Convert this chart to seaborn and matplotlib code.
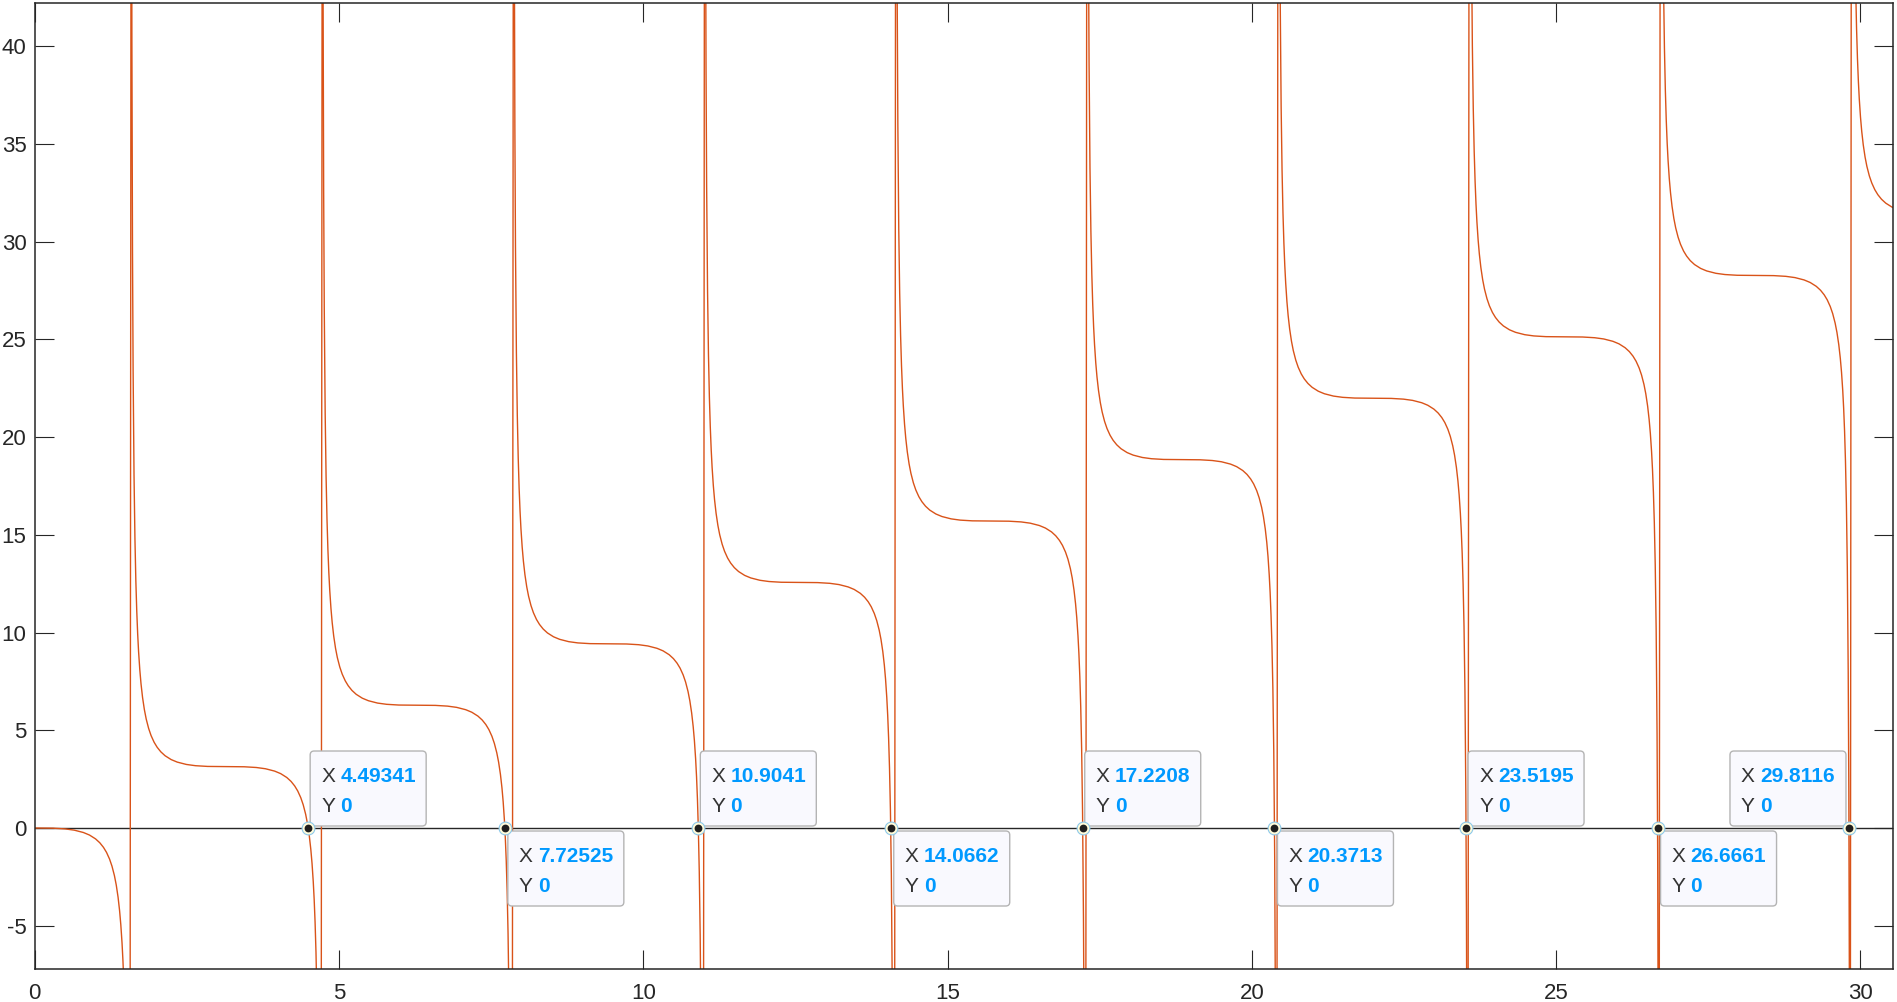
import matplotlib
matplotlib.use("Agg")
import matplotlib.pyplot as plt
import seaborn as sns
import pandas as pd
from matplotlib.patches import FancyBboxPatch
from matplotlib.transforms import IdentityTransform

# ---------------- curve points (one list pair per branch) ----------------
x_b0 = [0.0, 0.3, 0.5, 0.65, 0.8, 0.9, 1.0, 1.07, 1.13, 1.18, 1.23, 1.27, 1.31, 1.34, 1.37, 1.395, 1.415,
        1.435, 1.45, 1.465, 1.48, 1.495, 1.51, 1.525, 1.535, 1.545, 1.555]
y_b0 = [0.0, -0.009, -0.046, -0.110, -0.230, -0.360, -0.557, -0.757, -0.990, -1.247, -1.590, -1.954, -2.437,
        -2.916, -3.543, -4.235, -4.952, -5.884, -6.788, -7.952, -9.503, -11.673, -14.918, -20.296, -26.389,
        -37.212, -61.747]

x_b1 = [1.587, 1.597, 1.607, 1.617, 1.632, 1.647, 1.662, 1.677, 1.692, 1.707, 1.727, 1.747, 1.772, 1.802,
        1.832, 1.872, 1.912, 1.962, 2.012, 2.072, 2.142, 2.242, 2.342, 2.492, 2.642, 2.842, 3.142,
        3.442, 3.642, 3.792, 3.942, 4.042, 4.142, 4.212, 4.272, 4.322, 4.372, 4.412, 4.452, 4.482, 4.512,
        4.537, 4.557, 4.577, 4.592, 4.607, 4.622, 4.637, 4.652, 4.667, 4.677, 4.687, 4.697]
y_b1 = [64.889, 40.354, 29.531, 23.438, 18.060, 14.815, 12.645, 11.094, 9.930, 9.026, 8.094, 7.377, 6.685,
        6.058, 5.579, 5.096, 4.732, 4.389, 4.132, 3.899, 3.699, 3.502, 3.372, 3.252, 3.188, 3.151, 3.142,
        3.133, 3.096, 3.032, 2.912, 2.782, 2.585, 2.385, 2.152, 1.895, 1.552, 1.188, 0.705, 0.226, -0.401,
        -1.093, -1.810, -2.742, -3.646, -4.810, -6.361, -8.531, -11.776, -17.154, -23.247, -34.070, -58.605]

x_b2 = [4.728, 4.738, 4.748, 4.758, 4.773, 4.788, 4.803, 4.818, 4.833, 4.848, 4.868, 4.888, 4.913, 4.943,
        4.973, 5.013, 5.053, 5.103, 5.153, 5.213, 5.283, 5.383, 5.483, 5.633, 5.783, 5.983, 6.283,
        6.583, 6.783, 6.933, 7.083, 7.183, 7.283, 7.353, 7.413, 7.463, 7.513, 7.553, 7.593, 7.623, 7.653,
        7.678, 7.698, 7.718, 7.733, 7.748, 7.763, 7.778, 7.793, 7.808, 7.818, 7.828, 7.838]
y_b2 = [68.030, 43.495, 32.672, 26.579, 21.201, 17.956, 15.786, 14.235, 13.071, 12.167, 11.235, 10.518, 9.826,
        9.199, 8.720, 8.237, 7.873, 7.530, 7.273, 7.040, 6.840, 6.643, 6.513, 6.393, 6.329, 6.292, 6.283,
        6.274, 6.237, 6.173, 6.053, 5.923, 5.726, 5.526, 5.293, 5.036, 4.693, 4.329, 3.846, 3.367, 2.740,
        2.048, 1.331, 0.399, -0.505, -1.669, -3.220, -5.390, -8.635, -14.013, -20.106, -30.929, -55.464]

x_b3 = [7.870, 7.880, 7.890, 7.900, 7.915, 7.930, 7.945, 7.960, 7.975, 7.990, 8.010, 8.030, 8.055, 8.085,
        8.115, 8.155, 8.195, 8.245, 8.295, 8.355, 8.425, 8.525, 8.625, 8.775, 8.925, 9.125, 9.425,
        9.725, 9.925, 10.075, 10.225, 10.325, 10.425, 10.495, 10.555, 10.605, 10.655, 10.695, 10.735, 10.765,
        10.795, 10.820, 10.840, 10.860, 10.875, 10.890, 10.905, 10.920, 10.935, 10.950, 10.960, 10.970, 10.980]
y_b3 = [71.172, 46.637, 35.814, 29.721, 24.343, 21.098, 18.928, 17.377, 16.213, 15.309, 14.377, 13.660, 12.968,
        12.341, 11.862, 11.379, 11.015, 10.672, 10.415, 10.182, 9.982, 9.785, 9.655, 9.535, 9.471, 9.434, 9.425,
        9.416, 9.379, 9.315, 9.195, 9.065, 8.868, 8.668, 8.435, 8.178, 7.835, 7.471, 6.988, 6.509, 5.882,
        5.190, 4.473, 3.541, 2.637, 1.473, -0.078, -2.248, -5.493, -10.871, -16.964, -27.787, -52.322]

x_b4 = [11.011, 11.021, 11.031, 11.041, 11.056, 11.071, 11.086, 11.101, 11.116, 11.131, 11.151, 11.171, 11.196,
        11.226, 11.256, 11.296, 11.336, 11.386, 11.436, 11.496, 11.566, 11.666, 11.766, 11.916, 12.066, 12.266,
        12.566, 12.866, 13.066, 13.216, 13.366, 13.466, 13.566, 13.636, 13.696, 13.746, 13.796, 13.836, 13.876,
        13.906, 13.936, 13.961, 13.981, 14.001, 14.016, 14.031, 14.046, 14.061, 14.076, 14.091, 14.101, 14.111,
        14.121]
y_b4 = [74.313, 49.778, 38.955, 32.862, 27.484, 24.239, 22.069, 20.518, 19.354, 18.450, 17.518, 16.801, 16.109,
        15.482, 15.003, 14.520, 14.156, 13.813, 13.556, 13.323, 13.123, 12.926, 12.796, 12.676, 12.612, 12.575,
        12.566, 12.557, 12.520, 12.456, 12.336, 12.206, 12.009, 11.809, 11.576, 11.319, 10.976, 10.612, 10.129,
        9.650, 9.023, 8.331, 7.614, 6.682, 5.778, 4.614, 3.063, 0.893, -2.352, -7.730, -13.823, -24.646,
        -49.181]

x_b5 = [14.153, 14.163, 14.173, 14.183, 14.198, 14.213, 14.228, 14.243, 14.258, 14.273, 14.293, 14.313, 14.338,
        14.368, 14.398, 14.438, 14.478, 14.528, 14.578, 14.638, 14.708, 14.808, 14.908, 15.058, 15.208, 15.408,
        15.708, 16.008, 16.208, 16.358, 16.508, 16.608, 16.708, 16.778, 16.838, 16.888, 16.938, 16.978, 17.018,
        17.048, 17.078, 17.103, 17.123, 17.143, 17.158, 17.173, 17.188, 17.203, 17.218, 17.233, 17.243, 17.253,
        17.263]
y_b5 = [77.455, 52.920, 42.097, 36.004, 30.626, 27.381, 25.211, 23.660, 22.496, 21.592, 20.660, 19.943, 19.251,
        18.624, 18.145, 17.662, 17.298, 16.955, 16.698, 16.465, 16.265, 16.068, 15.938, 15.818, 15.754, 15.717,
        15.708, 15.699, 15.662, 15.598, 15.478, 15.348, 15.151, 14.951, 14.718, 14.461, 14.118, 13.754, 13.271,
        12.792, 12.165, 11.473, 10.756, 9.824, 8.920, 7.756, 6.205, 4.035, 0.790, -4.588, -10.681, -21.504,
        -46.039]

x_b6 = [17.295, 17.305, 17.315, 17.325, 17.340, 17.355, 17.370, 17.385, 17.400, 17.415, 17.435, 17.455, 17.480,
        17.510, 17.540, 17.580, 17.620, 17.670, 17.720, 17.780, 17.850, 17.950, 18.050, 18.200, 18.350, 18.550,
        18.850, 19.150, 19.350, 19.500, 19.650, 19.750, 19.850, 19.920, 19.980, 20.030, 20.080, 20.120, 20.160,
        20.190, 20.220, 20.245, 20.265, 20.285, 20.300, 20.315, 20.330, 20.345, 20.360, 20.375, 20.385, 20.395,
        20.405]
y_b6 = [80.597, 56.062, 45.239, 39.146, 33.768, 30.523, 28.353, 26.802, 25.638, 24.734, 23.802, 23.085, 22.393,
        21.766, 21.287, 20.804, 20.440, 20.097, 19.840, 19.607, 19.407, 19.210, 19.080, 18.960, 18.896, 18.859,
        18.850, 18.841, 18.804, 18.740, 18.620, 18.490, 18.293, 18.093, 17.860, 17.603, 17.260, 16.896, 16.413,
        15.934, 15.307, 14.615, 13.898, 12.966, 12.062, 10.898, 9.347, 7.177, 3.932, -1.446, -7.539, -18.362,
        -42.897]

x_b7 = [20.436, 20.446, 20.456, 20.466, 20.481, 20.496, 20.511, 20.526, 20.541, 20.556, 20.576, 20.596, 20.621,
        20.651, 20.681, 20.721, 20.761, 20.811, 20.861, 20.921, 20.991, 21.091, 21.191, 21.341, 21.491, 21.691,
        21.991, 22.291, 22.491, 22.641, 22.791, 22.891, 22.991, 23.061, 23.121, 23.171, 23.221, 23.261, 23.301,
        23.331, 23.361, 23.386, 23.406, 23.426, 23.441, 23.456, 23.471, 23.486, 23.501, 23.516, 23.526, 23.536,
        23.546]
y_b7 = [83.738, 59.203, 48.380, 42.287, 36.909, 33.664, 31.494, 29.943, 28.779, 27.875, 26.943, 26.226, 25.534,
        24.907, 24.428, 23.945, 23.581, 23.238, 22.981, 22.748, 22.548, 22.351, 22.221, 22.101, 22.037, 22.000,
        21.991, 21.982, 21.945, 21.881, 21.761, 21.631, 21.434, 21.234, 21.001, 20.744, 20.401, 20.037, 19.554,
        19.075, 18.448, 17.756, 17.039, 16.107, 15.203, 14.039, 12.488, 10.318, 7.073, 1.695, -4.398, -15.221,
        -39.756]

x_b8 = [23.578, 23.588, 23.598, 23.608, 23.623, 23.638, 23.653, 23.668, 23.683, 23.698, 23.718, 23.738, 23.763,
        23.793, 23.823, 23.863, 23.903, 23.953, 24.003, 24.063, 24.133, 24.233, 24.333, 24.483, 24.633, 24.833,
        25.133, 25.433, 25.633, 25.783, 25.933, 26.033, 26.133, 26.203, 26.263, 26.313, 26.363, 26.403, 26.443,
        26.473, 26.503, 26.528, 26.548, 26.568, 26.583, 26.598, 26.613, 26.628, 26.643, 26.658, 26.668, 26.678,
        26.688]
y_b8 = [86.880, 62.345, 51.522, 45.429, 40.051, 36.806, 34.636, 33.085, 31.921, 31.017, 30.085, 29.368, 28.676,
        28.049, 27.570, 27.087, 26.723, 26.380, 26.123, 25.890, 25.690, 25.493, 25.363, 25.243, 25.179, 25.142,
        25.133, 25.124, 25.087, 25.023, 24.903, 24.773, 24.576, 24.376, 24.143, 23.886, 23.543, 23.179, 22.696,
        22.217, 21.590, 20.898, 20.181, 19.249, 18.345, 17.181, 15.630, 13.460, 10.215, 4.837, -1.256, -12.079,
        -36.614]

x_b9 = [26.719, 26.729, 26.739, 26.749, 26.764, 26.779, 26.794, 26.809, 26.824, 26.839, 26.859, 26.879, 26.904,
        26.934, 26.964, 27.004, 27.044, 27.094, 27.144, 27.204, 27.274, 27.374, 27.474, 27.624, 27.774, 27.974,
        28.274, 28.574, 28.774, 28.924, 29.074, 29.174, 29.274, 29.344, 29.404, 29.454, 29.504, 29.544, 29.584,
        29.614, 29.644, 29.669, 29.689, 29.709, 29.724, 29.739, 29.754, 29.769, 29.784, 29.799, 29.809, 29.819,
        29.829]
y_b9 = [90.021, 65.486, 54.663, 48.570, 43.192, 39.947, 37.777, 36.226, 35.062, 34.158, 33.226, 32.509, 31.817,
        31.190, 30.711, 30.228, 29.864, 29.521, 29.264, 29.031, 28.831, 28.634, 28.504, 28.384, 28.320, 28.283,
        28.274, 28.265, 28.228, 28.164, 28.044, 27.914, 27.717, 27.517, 27.284, 27.027, 26.684, 26.320, 25.837,
        25.358, 24.731, 24.039, 23.322, 22.390, 21.486, 20.322, 18.771, 16.601, 13.356, 7.978, 1.885, -8.938,
        -33.473]

x_b10 = [29.861, 29.871, 29.881, 29.891, 29.906, 29.921, 29.936, 29.951, 29.966, 29.981, 30.001, 30.021, 30.046,
         30.076, 30.106, 30.146, 30.186, 30.236, 30.286, 30.346, 30.416, 30.516, 30.616]
y_b10 = [93.163, 68.628, 57.805, 51.712, 46.334, 43.089, 40.919, 39.368, 38.204, 37.300, 36.368, 35.651, 34.959,
         34.332, 33.853, 33.370, 33.006, 32.663, 32.406, 32.173, 31.973, 31.776, 31.646]

# data tips (zeros of the curve)
tip_x = [4.49341, 7.72525, 10.9041, 14.0662, 17.2208, 20.3713, 23.5195, 26.6661, 29.8116]
tip_y = [0, 0, 0, 0, 0, 0, 0, 0, 0]
tip_x_text = ["4.49341", "7.72525", "10.9041", "14.0662", "17.2208", "20.3713", "23.5195", "26.6661", "29.8116"]
tip_y_text = ["0", "0", "0", "0", "0", "0", "0", "0", "0"]
tip_place = ["above_right", "below_right", "above_right", "below_right", "above_right",
             "below_right", "above_right", "below_right", "above_left"]

x_ticks = [0, 5, 10, 15, 20, 25, 30]
y_ticks = [-5, 0, 5, 10, 15, 20, 25, 30, 35, 40]

# ---------------- styling ----------------
sns.set_style("ticks")
plt.rcParams["font.family"] = ["Liberation Sans", "DejaVu Sans"]
plt.rcParams["axes.unicode_minus"] = False

W, H = 1897, 1002
fig = plt.figure(figsize=(W / 100, H / 100), dpi=100)
left_px, right_px, top_px, bot_px = 34.7, 1892.7, 2.7, 969.3
ax = fig.add_axes([left_px / W, 1 - bot_px / H, (right_px - left_px) / W, (bot_px - top_px) / H])

all_x = x_b0 + x_b1 + x_b2 + x_b3 + x_b4 + x_b5 + x_b6 + x_b7 + x_b8 + x_b9 + x_b10
all_y = y_b0 + y_b1 + y_b2 + y_b3 + y_b4 + y_b5 + y_b6 + y_b7 + y_b8 + y_b9 + y_b10
df = pd.DataFrame({"x": all_x, "y": all_y})

line_color = "#D95319"
axis_col = "#262626"
ax.axhline(0, color=axis_col, lw=1.0, zorder=1)
sns.lineplot(data=df, x="x", y="y", sort=False, estimator=None, color=line_color,
             linewidth=1.0, ax=ax, zorder=2)

ax.set_xlim(0, 30.53)
ax.set_ylim(-7.23, 42.23)
ax.set_xticks(x_ticks)
ax.set_yticks(y_ticks)
ax.set_xticklabels([str(t) for t in x_ticks])
ax.set_yticklabels([str(t) for t in y_ticks])
ax.set_xlabel("")
ax.set_ylabel("")

for s in ax.spines.values():
    s.set_visible(True)
    s.set_color(axis_col)
    s.set_linewidth(1.1)
ax.tick_params(axis="both", direction="in", length=13.4, width=0.8, color=axis_col,
               labelsize=16, labelcolor=axis_col, top=True, right=True)
ax.tick_params(axis="x", pad=10)
ax.tick_params(axis="y", pad=6)

# data tip markers
ax.plot(tip_x, tip_y, "o", ms=9.2, mfc="#FFFBDA", mec="#8CC8EA", mew=0.8, zorder=6, clip_on=False)
ax.plot(tip_x, tip_y, "o", ms=5.6, mfc="#1E1E1E", mec="#1E1E1E", mew=0, zorder=7, clip_on=False)

# data tip boxes (pixel geometry)
fig.canvas.draw()
bw, bh, r = 116, 75, 4
ident = IdentityTransform()
for xv, yv, xs, ys, place in zip(tip_x, tip_y, tip_x_text, tip_y_text, tip_place):
    mx, my = ax.transData.transform((xv, yv))
    if place == "above_right":
        bl, bb = mx + 2, my + 2
    elif place == "below_right":
        bl, bb = mx + 3, my - 3 - bh
    else:
        bl, bb = mx - 3 - bw, my + 2
    patch = FancyBboxPatch((bl + r, bb + r), bw - 2 * r, bh - 2 * r,
                           boxstyle=f"round,pad={r}", transform=ident,
                           facecolor="#F9F9FE", edgecolor="#B4B4B4", lw=1.0,
                           zorder=4, clip_on=False)
    ax.add_patch(patch)
    top = bb + bh
    for txt_lab, txt_val, base in (("X", xs, top - 31.3), ("Y", ys, top - 60.7)):
        ax.text(bl + 11, base, txt_lab, transform=ident, fontsize=15, color="#333333",
                va="baseline", ha="left", zorder=5)
        ax.text(bl + 30, base, txt_val, transform=ident, fontsize=15, color="#0099FF",
                fontweight="bold", va="baseline", ha="left", zorder=5)

fig.savefig("out.png", dpi=100)
